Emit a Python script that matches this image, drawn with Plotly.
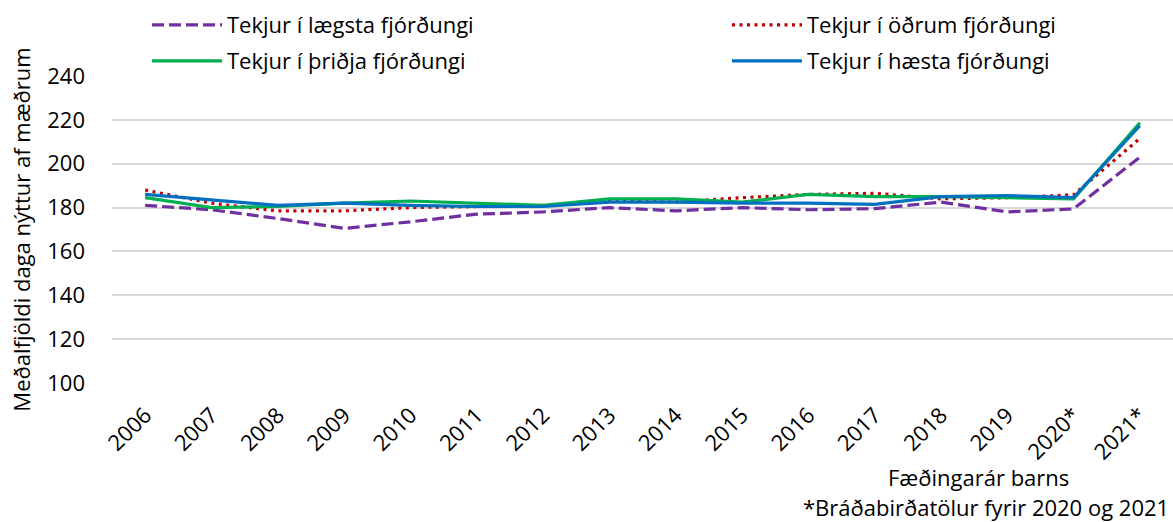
import plotly.graph_objects as go

years = ["2006", "2007", "2008", "2009", "2010", "2011", "2012", "2013",
         "2014", "2015", "2016", "2017", "2018", "2019", "2020*", "2021*"]

laegsta = [181, 179, 175, 170.5, 173.5, 177, 178, 180, 178.5, 180, 179, 179.5, 182.5, 178, 179.4, 203]
odrum = [188, 182, 178.5, 178.5, 180, 180.5, 181, 183, 182.5, 184.5, 186, 186.5, 184, 184.5, 185.8, 211.5]
thridja = [184.5, 180, 180.5, 182, 183, 182, 181, 184, 184, 182.5, 186, 185, 185, 184.5, 184, 218.7]
haesta = [186, 183.5, 181, 182, 181, 180.5, 180.5, 182.5, 182.5, 182, 182, 181.5, 185, 185.5, 184.5, 217.3]

y_ticks = [100, 120, 140, 160, 180, 200, 220, 240]

FONT = "Open Sans"
FS = 22
W, H = 1173, 522
L, R, T, B = 112, 0, 76, 139
PH = H - T - B
PW = W - L - R

fig = go.Figure()

# (name, values, colour, dash, legend id, legend left px, legend centre y px)
series = [
    ("Tekjur í lægsta fjórðungi", laegsta, "#7030A0", "12px,5px", "legend", 147, 25),
    ("Tekjur í öðrum fjórðungi", odrum, "#C00000", "3px,4.5px", "legend2", 727, 25),
    ("Tekjur í þriðja fjórðungi", thridja, "#00B050", "solid", "legend3", 147, 61),
    ("Tekjur í hæsta fjórðungi", haesta, "#0070C0", "solid", "legend4", 727, 61),
]
legends = {}
for name, vals, col, dash, lg, lx, ly in series:
    fig.add_trace(go.Scatter(x=years, y=vals, name=name, mode="lines",
                             line=dict(color=col, width=3.2, dash=dash),
                             legend=lg, showlegend=True))
    legends[lg] = dict(orientation="h", xref="paper", yref="paper",
                       xanchor="left", yanchor="middle", itemwidth=70,
                       x=(lx - L) / PW, y=(H - B - ly) / PH,
                       font=dict(family=FONT, size=FS, color="#000000"),
                       bgcolor="rgba(0,0,0,0)", visible=True,
                       itemclick=False, itemdoubleclick=False)

fig.update_layout(
    width=W, height=H, showlegend=True,
    margin=dict(l=L, r=R, t=T, b=B, autoexpand=False),
    paper_bgcolor="white", plot_bgcolor="white",
    font=dict(family=FONT, size=FS, color="#000000"),
    xaxis=dict(type="category", tickangle=-45, showgrid=False, showline=False,
               ticks="", tickfont=dict(family=FONT, size=FS), range=[-0.5, 15.5],
               ticklabelstandoff=14),
    yaxis=dict(range=[100, 240], tickvals=y_ticks, showgrid=True,
               gridcolor="#D9D9D9", gridwidth=1.5, zeroline=False, showline=False,
               ticks="", tickfont=dict(family=FONT, size=FS), ticklabelstandoff=26,
               title=dict(text="Meðalfjöldi daga nýttur af mæðrum",
                          font=dict(family=FONT, size=FS), standoff=10)),
    annotations=[
        dict(text="Fæðingarár barns", xref="paper", yref="paper",
             x=(978 - L) / PW, y=-(477 - (H - B)) / PH,
             xanchor="center", yanchor="middle", showarrow=False,
             font=dict(family=FONT, size=FS)),
        dict(text="*Bráðabirðatölur fyrir 2020 og 2021", xref="paper", yref="paper",
             x=(1171 - L) / PW, y=-(507 - (H - B)) / PH, xanchor="right", yanchor="middle",
             showarrow=False, font=dict(family=FONT, size=FS)),
    ],
    **legends,
)

fig.write_html("out.html", config={"displayModeBar": False},
               post_script="document.body.style.margin='0';document.body.style.overflow='hidden';")
